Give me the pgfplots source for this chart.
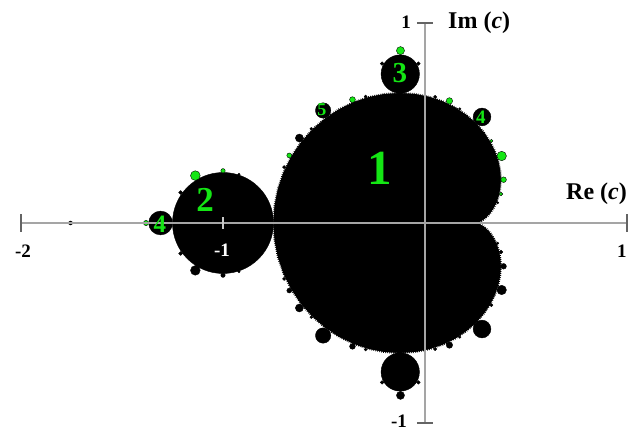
\documentclass[border=0pt]{standalone}
\usepackage{pgfplots}
\usepackage{pgfplotstable}
\pgfplotsset{compat=1.18}
\usepackage{fontspec}
\setmainfont{Liberation Serif}
\definecolor{mgreen}{RGB}{20,230,20}
\definecolor{axgray}{RGB}{165,165,165}
\definecolor{tickgray}{RGB}{100,100,100}

% main cardioid boundary
\pgfplotstableread{
x y
0.2500 0.0000
0.2519 0.0002
0.2575 0.0013
0.2665 0.0044
0.2783 0.0103
0.2925 0.0198
0.3080 0.0335
0.3241 0.0519
0.3396 0.0752
0.3536 0.1036
0.3648 0.1368
0.3723 0.1747
0.3750 0.2165
0.3720 0.2616
0.3625 0.3091
0.3459 0.3580
0.3217 0.4069
0.2898 0.4547
0.2500 0.5000
0.2026 0.5415
0.1481 0.5779
0.0871 0.6080
0.0205 0.6305
-0.0506 0.6447
-0.1250 0.6495
-0.2013 0.6445
-0.2780 0.6292
-0.3536 0.6036
-0.4264 0.5676
-0.4951 0.5217
-0.5580 0.4665
-0.6139 0.4028
-0.6614 0.3317
-0.6995 0.2544
-0.7273 0.1723
-0.7443 0.0870
-0.7500 0.0000
-0.7443 -0.0870
-0.7273 -0.1723
-0.6995 -0.2544
-0.6614 -0.3317
-0.6139 -0.4028
-0.5580 -0.4665
-0.4951 -0.5217
-0.4264 -0.5676
-0.3536 -0.6036
-0.2780 -0.6292
-0.2013 -0.6445
-0.1250 -0.6495
-0.0506 -0.6447
0.0205 -0.6305
0.0871 -0.6080
0.1481 -0.5779
0.2026 -0.5415
0.2500 -0.5000
0.2898 -0.4547
0.3217 -0.4069
0.3459 -0.3580
0.3625 -0.3091
0.3720 -0.2616
0.3750 -0.2165
0.3723 -0.1747
0.3648 -0.1368
0.3536 -0.1036
0.3396 -0.0752
0.3241 -0.0519
0.3080 -0.0335
0.2925 -0.0198
0.2783 -0.0103
0.2665 -0.0044
0.2575 -0.0013
0.2519 -0.0002
0.2500 0.0000
}\cardioid

% black bulbs: centre and radius
\pgfplotstableread{
x y r
-1.0000 0.0000 0.2500
-0.1226 0.7449 0.0950
-0.1226 -0.7449 0.0950
-1.3090 0.0000 0.0590
0.2822 0.5301 0.0440
0.2822 -0.5301 0.0440
-0.5043 0.5627 0.0380
-0.5043 -0.5627 0.0380
0.3795 -0.3349 0.0235
0.3890 -0.2165 0.0140
0.1209 -0.6104 0.0160
-0.6219 0.4248 0.0199
-0.6219 -0.4248 0.0199
-0.3591 -0.6169 0.0144
-0.6720 -0.3378 0.0122
0.3760 -0.1450 0.0089
-1.1370 -0.2370 0.0240
-1.0000 -0.2610 0.0110
-1.2100 0.1525 0.0095
-1.2100 -0.1525 0.0095
-0.9210 0.2434 0.0060
-0.9210 -0.2434 0.0060
-0.1214 -0.8620 0.0200
-0.0326 0.7970 0.0090
-0.2126 0.7970 0.0090
-0.0326 -0.7970 0.0090
-0.2126 -0.7970 0.0090
-1.7549 0.0000 0.0100
0.3591 0.1013 0.0060
0.3591 -0.1013 0.0060
0.3285 -0.4109 0.0079
0.0502 0.6302 0.0081
0.0502 -0.6302 0.0081
-0.2940 0.6325 0.0075
-0.2940 -0.6325 0.0075
-0.6975 0.2794 0.0082
-0.6975 -0.2794 0.0082
-0.5627 0.4712 0.0067
-0.5627 -0.4712 0.0067
0.1721 0.5706 0.0063
0.1721 -0.5706 0.0063
}\blackbulbs

% green bulbs: centre and radius
\pgfplotstableread{
x y r
0.3795 0.3349 0.0235
0.3890 0.2165 0.0140
0.1209 0.6104 0.0160
-0.3591 0.6169 0.0144
-0.6720 0.3378 0.0122
0.3760 0.1450 0.0089
-1.1370 0.2370 0.0240
-1.0000 0.2610 0.0110
-1.3810 0.0000 0.0130
-0.1214 0.8620 0.0200
0.3285 0.4109 0.0079
}\greenbulbs

\begin{document}
\begin{tikzpicture}
\begin{axis}[
  x=202pt, y=200pt,
  xmin=-2.104, xmax=1.0099, ymin=-1.045, ymax=1.115,
  hide axis, clip=false, clip mode=individual,
  font=\bfseries,
]
% the set
\addplot[fill=black, draw=black, line width=2.2pt, dash pattern=on 0.7pt off 1.3pt] table[x=x,y=y] {\cardioid};
\addplot[fill=black, draw=none] table[x=x,y=y] {\cardioid};
\addplot[black, line width=0.8pt] coordinates {(-2,0) (-1.36,0)};
\addplot[scatter, only marks, mark=*,
  scatter/use mapped color={draw=black, fill=black},
  visualization depends on={202*\thisrow{r} \as \rad},
  scatter/@pre marker code/.append style={/tikz/mark size=\rad}]
  table[x=x,y=y] {\blackbulbs};
\addplot[scatter, only marks, mark=*,
  scatter/use mapped color={draw=black, fill=mgreen},
  visualization depends on={202*\thisrow{r} \as \rad},
  scatter/@pre marker code/.append style={/tikz/mark size=\rad}]
  table[x=x,y=y] {\greenbulbs};
% axes
\addplot[axgray, line width=2pt] coordinates {(-2,0) (1,0)};
\addplot[axgray, line width=2pt] coordinates {(0,-1) (0,1)};
% ticks
\addplot[tickgray, line width=1.6pt] coordinates {(-2,-0.045) (-2,0.045)};
\addplot[tickgray, line width=1.6pt] coordinates {(1,-0.045) (1,0.045)};
\addplot[axgray!60!white, line width=1.4pt] coordinates {(-1,-0.03) (-1,0.03)};
\addplot[tickgray, line width=1.6pt] coordinates {(-0.04,1) (0.04,1)};
\addplot[tickgray, line width=1.6pt] coordinates {(-0.04,-1) (0.04,-1)};
% tick labels
\node[font=\fontsize{19}{19}\selectfont\bfseries] at (axis cs:-1.99,-0.14) {-2};
\node[font=\fontsize{19}{19}\selectfont\bfseries, text=white] at (axis cs:-1.005,-0.135) {-1};
\node[font=\fontsize{19}{19}\selectfont\bfseries] at (axis cs:0.975,-0.14) {1};
\node[font=\fontsize{19}{19}\selectfont\bfseries] at (axis cs:-0.094,1.005) {1};
\node[font=\fontsize{19}{19}\selectfont\bfseries] at (axis cs:-0.129,-0.99) {-1};
% axis titles
\node[font=\fontsize{24}{24}\selectfont\bfseries, anchor=west, inner sep=0pt] at (axis cs:0.114,1.0) {Im (\textit{c})};
\node[font=\fontsize{24}{24}\selectfont\bfseries, anchor=east, inner sep=0pt] at (axis cs:1.0,0.145) {Re (\textit{c})};
% period labels
\node[text=mgreen, font=\fontsize{49}{49}\selectfont\bfseries] at (axis cs:-0.223,0.2725) {1};
\node[text=mgreen, font=\fontsize{35}{35}\selectfont\bfseries] at (axis cs:-1.089,0.115) {2};
\node[text=mgreen, font=\fontsize{29}{29}\selectfont\bfseries] at (axis cs:-0.124,0.75) {3};
\node[text=mgreen, font=\fontsize{19}{19}\selectfont\bfseries] at (axis cs:0.277,0.53) {4};
\node[text=mgreen, font=\fontsize{25}{25}\selectfont\bfseries] at (axis cs:-1.312,-0.005) {4};
\node[text=mgreen, font=\fontsize{18}{18}\selectfont\bfseries] at (axis cs:-0.51,0.565) {5};
\coordinate (ll) at (rel axis cs:0,0);
\coordinate (ur) at (rel axis cs:1,1);
\end{axis}
\pgfresetboundingbox
\path (ll) rectangle (ur);
\end{tikzpicture}
\end{document}
